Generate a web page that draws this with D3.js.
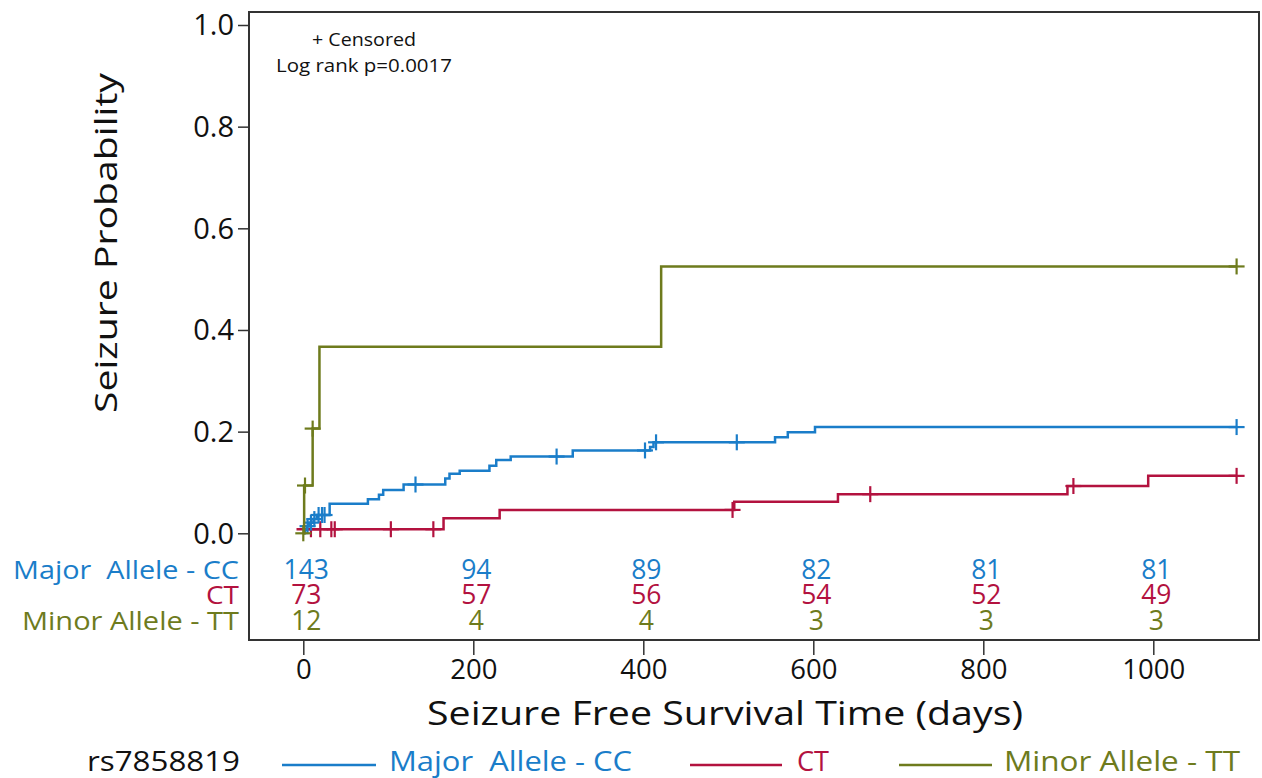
<!DOCTYPE html>
<html>
<head>
<meta charset="utf-8">
<script src="https://cdn.jsdelivr.net/npm/d3@7"></script>
<style>
  html, body { margin: 0; padding: 0; background: #fff; }
  svg { display: block; font-family: "Open Sans", sans-serif; }
  svg text { white-space: pre; }
</style>
</head>
<body>
<svg id="chart" width="1262" height="778"></svg>
<script>
// ---------------- data ----------------
const seriesNames = ["Major  Allele - CC", "CT", "Minor Allele - TT"];
const seriesColors = ["#1a7dc9", "#b3123f", "#6e7b1d"];

// step points (day, seizure probability) — step after
const ccDays  = [0, 2, 4, 7, 12, 16, 31, 76, 89, 94, 118, 167, 172, 184, 219, 227, 244, 317, 408, 412, 555, 570, 602, 1098];
const ccProb  = [0, 0.007, 0.014, 0.021, 0.028, 0.036, 0.058, 0.067, 0.076, 0.085, 0.096, 0.108, 0.117, 0.123, 0.133, 0.144, 0.151, 0.163, 0.170, 0.179, 0.189, 0.199, 0.209, 0.209];
const ccCensor = [5, 9, 13, 18, 22, 25, 132, 298, 402, 415, 510, 1098];

const ctDays  = [-8, 165, 231, 507, 629, 899, 994, 1098];
const ctProb  = [0.008, 0.0295, 0.046, 0.062, 0.077, 0.093, 0.113, 0.113];
const ctCensor = [9, 20, 33, 37, 103, 153, 505, 667, 906, 1098];

const ttDays  = [0, 1, 11, 19, 421, 1098];
const ttProb  = [0, 0.094, 0.206, 0.367, 0.525, 0.525];
const ttCensor = [0, 2, 11, 1098];

// number at risk
const riskDays = [0, 200, 400, 600, 800, 1000];
const ccRisk = [143, 94, 89, 82, 81, 81];
const ctRisk = [73, 57, 56, 54, 52, 49];
const ttRisk = [12, 4, 4, 3, 3, 3];

const xTicks = [0, 200, 400, 600, 800, 1000];
const yTicks = [0, 0.2, 0.4, 0.6, 0.8, 1.0];

const xTitle = "Seizure Free Survival Time (days)";
const yTitle = "Seizure Probability";
const legendTitle = "rs7858819";
const noteLines = ["+ Censored", "Log rank p=0.0017"];

// ---------------- drawing ----------------
const svg = d3.select("#chart");
const box = {left: 249, right: 1259, top: 12, bottom: 640};
const x = d3.scaleLinear().domain([0, 1000]).range([303.3, 1153.3]);
const y = d3.scaleLinear().domain([0, 1]).range([533.3, 25]);
const axisColor = "#333";

// frame
svg.append("rect")
  .attr("x", box.left).attr("y", box.top)
  .attr("width", box.right - box.left).attr("height", box.bottom - box.top)
  .attr("fill", "none").attr("stroke", axisColor).attr("stroke-width", 2);

// y axis ticks + labels
const yAxis = d3.axisLeft(y).tickValues(yTicks).tickFormat(d3.format(".1f")).tickSize(11).tickPadding(4);
const gy = svg.append("g").attr("transform", `translate(${box.left},0)`).call(yAxis);
gy.select(".domain").remove();
gy.selectAll(".tick line").attr("stroke", axisColor).attr("stroke-width", 1.5);
gy.selectAll(".tick text").attr("font-size", 29).attr("fill", "#111")
  .attr("font-family", "'Open Sans', sans-serif").attr("dy", "0.34em");

// x axis ticks + labels (below frame)
const xAxis = d3.axisBottom(x).tickValues(xTicks).tickFormat(d3.format("d")).tickSize(15).tickPadding(3);
const gx = svg.append("g").attr("transform", `translate(0,${box.bottom})`).call(xAxis);
gx.select(".domain").remove();
gx.selectAll(".tick line").attr("stroke", axisColor).attr("stroke-width", 1.5);
gx.selectAll(".tick text").attr("font-size", 27.5).attr("fill", "#111")
  .attr("font-family", "'Open Sans', sans-serif").attr("dy", "0.75em");

// curves
const line = d3.line().x(d => x(d[0])).y(d => y(d[1])).curve(d3.curveStepAfter);
const seriesData = [
  {days: ccDays, prob: ccProb, censor: ccCensor},
  {days: ctDays, prob: ctProb, censor: ctCensor},
  {days: ttDays, prob: ttProb, censor: ttCensor}
];
function probAt(s, t) {
  let p = s.prob[0];
  for (let i = 0; i < s.days.length; i++) if (s.days[i] <= t) p = s.prob[i];
  return p;
}
[1, 0, 2].forEach(i => {
  const s = seriesData[i];
  const pts = s.days.map((d, k) => [d, s.prob[k]]);
  svg.append("path").attr("d", line(pts)).attr("fill", "none")
    .attr("stroke", seriesColors[i]).attr("stroke-width", 2.5);
  const g = svg.append("g").attr("stroke", seriesColors[i]).attr("stroke-width", 2.2);
  s.censor.forEach(t => {
    const cx = x(t), cy = y(probAt(s, t));
    g.append("line").attr("x1", cx).attr("x2", cx).attr("y1", cy - 8).attr("y2", cy + 8);
    g.append("line").attr("x1", cx - 8).attr("x2", cx + 8).attr("y1", cy).attr("y2", cy);
  });
});

// notes
svg.append("text").attr("x", 364).attr("y", 46).attr("text-anchor", "middle")
  .attr("font-size", 18.5).attr("fill", "#111")
  .attr("textLength", 104).attr("lengthAdjust", "spacingAndGlyphs").text(noteLines[0]);
svg.append("text").attr("x", 364).attr("y", 72).attr("text-anchor", "middle")
  .attr("font-size", 18.5).attr("fill", "#111")
  .attr("textLength", 176).attr("lengthAdjust", "spacingAndGlyphs").text(noteLines[1]);

// numbers at risk
const riskRows = [ccRisk, ctRisk, ttRisk];
const riskBase = [578.5, 604, 630];
const rowLabelWidths = [226, 33, 217];
riskRows.forEach((row, i) => {
  svg.append("text").attr("x", 239).attr("y", riskBase[i]).attr("text-anchor", "end")
    .attr("font-size", 26).attr("fill", seriesColors[i])
    .attr("textLength", rowLabelWidths[i]).attr("lengthAdjust", "spacingAndGlyphs")
    .text(seriesNames[i]);
  svg.selectAll(null).data(riskDays).enter().append("text")
    .attr("x", d => x(d) + 3).attr("y", riskBase[i]).attr("text-anchor", "middle")
    .attr("font-size", 26.5).attr("fill", seriesColors[i])
    .text((d, k) => row[k]);
});

// axis titles
svg.append("text").attr("x", 725).attr("y", 725).attr("text-anchor", "middle")
  .attr("font-size", 33).attr("fill", "#111")
  .attr("textLength", 596).attr("lengthAdjust", "spacingAndGlyphs").text(xTitle);
svg.append("text").attr("transform", "translate(117,243) rotate(-90)").attr("text-anchor", "middle")
  .attr("font-size", 31).attr("fill", "#111")
  .attr("textLength", 340).attr("lengthAdjust", "spacingAndGlyphs").text(yTitle);

// legend
const legY = 771;
svg.append("text").attr("x", 87).attr("y", legY).attr("font-size", 27).attr("fill", "#111")
  .attr("textLength", 153).attr("lengthAdjust", "spacingAndGlyphs").text(legendTitle);
const legItems = [
  {x1: 282, x2: 376, tx: 389, tw: 243},
  {x1: 690, x2: 782, tx: 797, tw: 32},
  {x1: 899, x2: 992, tx: 1004, tw: 236}
];
legItems.forEach((it, i) => {
  svg.append("line").attr("x1", it.x1).attr("x2", it.x2).attr("y1", 765).attr("y2", 765)
    .attr("stroke", seriesColors[i]).attr("stroke-width", 2.5);
  svg.append("text").attr("x", it.tx).attr("y", legY).attr("font-size", 27)
    .attr("fill", seriesColors[i])
    .attr("textLength", it.tw).attr("lengthAdjust", "spacingAndGlyphs").text(seriesNames[i]);
});
</script>
</body>
</html>
